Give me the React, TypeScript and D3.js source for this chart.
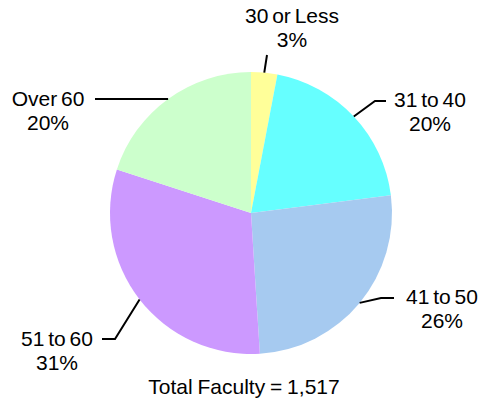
import React, { useEffect, useRef } from "react";
import * as d3 from "d3";

const categories = ["30 or Less", "31 to 40", "41 to 50", "51 to 60", "Over 60"];
const percents = [3, 20, 26, 31, 20];
const colors = ["#ffff99", "#66ffff", "#a6caf0", "#cc99ff", "#ccffcc"];
const totalFaculty = 1517;

// label layout: text centre, first baseline, leader line points after the slice point
const labelLayout = [
  { x: 292, y: 23, path: [[267, 55]] },
  { x: 430, y: 107, path: [[375, 101], [386, 101]] },
  { x: 442, y: 304, path: [[381, 298], [394, 298]] },
  { x: 57, y: 346, path: [[115, 339], [102, 339]] },
  { x: 48, y: 106, path: [[95, 99]] },
];

const App = () => {
  const ref = useRef<SVGSVGElement>(null);

  useEffect(() => {
    const width = 483;
    const height = 400;
    const cx = 251;
    const cy = 213;
    const radius = 141;

    const svg = d3.select(ref.current);
    svg.selectAll("*").remove();
    svg.attr("width", width).attr("height", height);

    const data = categories.map((c, i) => ({ name: c, value: percents[i], color: colors[i] }));
    const pie = d3.pie<any>().sort(null).value((d) => d.value);
    const arc = d3.arc<any>().innerRadius(0).outerRadius(radius);
    const arcs = pie(data);

    const g = svg.append("g").attr("transform", `translate(${cx},${cy})`);
    g.selectAll("path")
      .data(arcs)
      .join("path")
      .attr("d", arc)
      .attr("fill", (d) => d.data.color);

    const font = "'Liberation Sans', Arial, sans-serif";
    const line = d3.line();

    arcs.forEach((d, i) => {
      const mid = (d.startAngle + d.endAngle) / 2;
      const start: [number, number] = [cx + radius * Math.sin(mid), cy - radius * Math.cos(mid)];
      const lay = labelLayout[i];
      svg
        .append("path")
        .attr("d", line([start, ...(lay.path as [number, number][])]))
        .attr("fill", "none")
        .attr("stroke", "#000")
        .attr("stroke-width", 2);

      const t = svg
        .append("text")
        .attr("text-anchor", "middle")
        .style("font-family", font)
        .style("font-size", "21px")
        .style("word-spacing", "-2px")
        .attr("fill", "#000");
      t.append("tspan").attr("x", lay.x).attr("y", lay.y).text(d.data.name);
      t.append("tspan").attr("x", lay.x).attr("y", lay.y + 24).text(`${d.data.value}%`);
    });

    svg
      .append("text")
      .attr("x", 244)
      .attr("y", 394)
      .attr("text-anchor", "middle")
      .style("font-family", font)
      .style("font-size", "21px")
      .style("word-spacing", "-1px")
      .text(`Total Faculty = ${d3.format(",")(totalFaculty)}`);
  }, []);

  return (
    <div style={{ position: "absolute", left: 0, top: 0 }}>
      <svg ref={ref} style={{ display: "block" }}></svg>
    </div>
  );
};

export default App;
